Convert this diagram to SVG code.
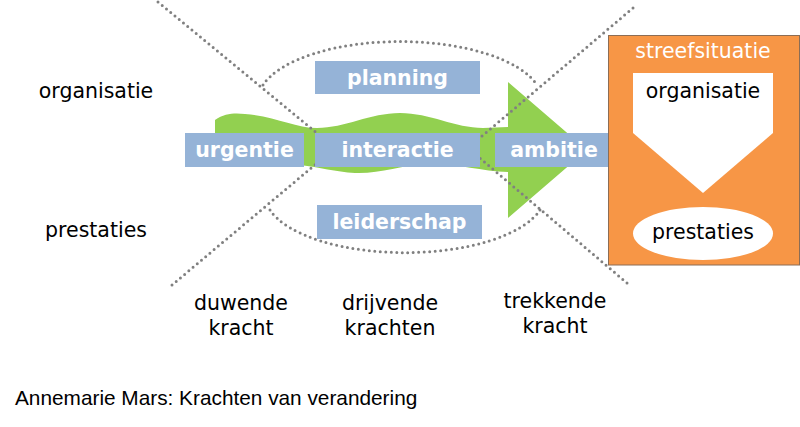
<svg xmlns="http://www.w3.org/2000/svg" width="800" height="427" viewBox="0 0 800 427">
<style>
.lbl{font-family:"DejaVu Sans",Verdana,sans-serif;font-size:20.5px;fill:#000;text-anchor:middle}
.box{fill:#95b3d7}
.btxt{font-family:"DejaVu Sans",Verdana,sans-serif;font-size:20.5px;font-weight:bold;fill:#fff;text-anchor:middle}
.dot{fill:none;stroke:#808080;stroke-width:3;stroke-dasharray:0 5.5;stroke-linecap:round}
</style>
<rect width="800" height="427" fill="#fff"/>
<g id="ellipse">
<path class="dot" d="M263,85 A142,59 0 0 1 537,85"/>
<path class="dot" d="M270,210 A140,58 0 0 0 540,210"/>
</g>
<g id="arrow">
<path fill="#92d050" d="M215,120 C225,113 235,113 245,114 C275,116 295,128 317,128 C345,128 370,113 400,113 C430,113 455,128 483,128 L508,127 L508,82 L587,150 L508,218 L508,172 C480,171 455,163 430,164 C400,165 380,174 355,173 C335,172 320,167 300,165 L215,165 Z"/>
</g>
<g id="connectors">
<path class="dot" d="M158,2 L335,148"/>
<path class="dot" d="M172,285 L335,148"/>
<path class="dot" d="M633,8 L468,148"/>
<path class="dot" d="M627,283 L468,148"/>
</g>
<g id="urgentie"><rect class="box" x="185" y="133" width="119" height="34"/><text class="btxt" x="244.5" y="157">urgentie</text></g>
<g id="interactie"><rect class="box" x="315" y="133" width="165" height="34"/><text class="btxt" x="397.5" y="157">interactie</text></g>
<g id="ambitie"><rect class="box" x="495" y="133" width="118" height="34"/><text class="btxt" x="554" y="157">ambitie</text></g>
<g id="planning"><rect class="box" x="315" y="61" width="165" height="33"/><text class="btxt" x="397.5" y="85">planning</text></g>
<g id="leiderschap"><rect class="box" x="317" y="205" width="165" height="34"/><text class="btxt" x="399.5" y="229">leiderschap</text></g>
<g id="streefsituatie">
<rect x="608.5" y="35.5" width="191" height="229.5" fill="#f79646" stroke="#8c6d55" stroke-width="1"/>
<text x="703" y="58" style="font-family:'DejaVu Sans',Verdana,sans-serif;font-size:20.5px;fill:#fff;text-anchor:middle">streefsituatie</text>
<polygon points="633,73 773,73 773,133 703,193 633,133" fill="#fff"/>
<text class="lbl" x="703" y="98">organisatie</text>
<ellipse cx="703" cy="233.5" rx="70" ry="26.5" fill="#fff"/>
<text class="lbl" x="703" y="239">prestaties</text>
</g>
<g id="labels">
<text class="lbl" x="96" y="98">organisatie</text>
<text class="lbl" x="96" y="237">prestaties</text>
<text class="lbl" x="241" y="310">duwende</text>
<text class="lbl" x="241" y="335">kracht</text>
<text class="lbl" x="390" y="310">drijvende</text>
<text class="lbl" x="390" y="335">krachten</text>
<text class="lbl" x="555" y="308">trekkende</text>
<text class="lbl" x="555" y="333">kracht</text>
<text x="15" y="405" style="font-family:'Liberation Sans',Arial,sans-serif;font-size:20.8px;fill:#000">Annemarie Mars: Krachten van verandering</text>
</g>
</svg>
